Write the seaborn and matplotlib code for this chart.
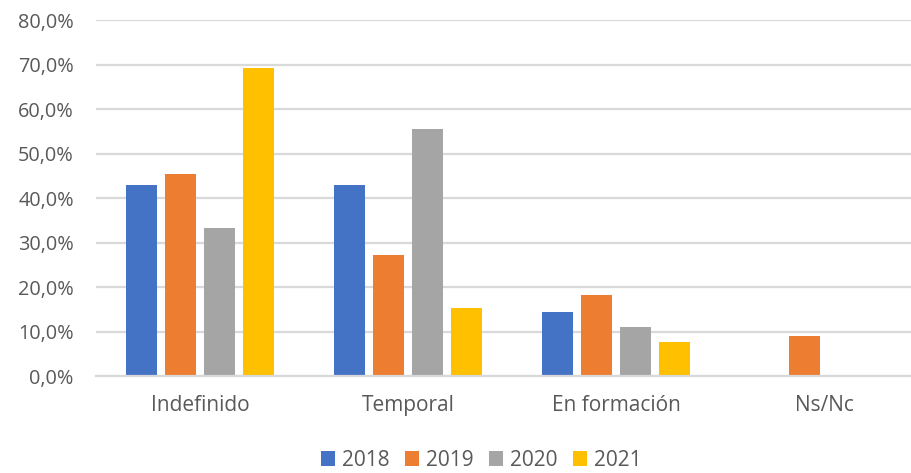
import numpy as np
import pandas as pd
import matplotlib
matplotlib.use("Agg")
import matplotlib.pyplot as plt
from matplotlib.ticker import FuncFormatter
import seaborn as sns

# Chart data (percentages)
categories = ["Indefinido", "Temporal", "En formación", "Ns/Nc"]
years = ["2018", "2019", "2020", "2021"]
v2018 = [42.9, 42.9, 14.3, np.nan]
v2019 = [45.5, 27.3, 18.2, 9.1]
v2020 = [33.3, 55.6, 11.1, np.nan]
v2021 = [69.2, 15.4, 7.7, np.nan]
colors = ["#4472C4", "#ED7D31", "#A5A5A5", "#FFC000"]

df = pd.DataFrame({"categoria": categories, "2018": v2018, "2019": v2019,
                   "2020": v2020, "2021": v2021})
long_df = df.melt(id_vars="categoria", var_name="año", value_name="valor").dropna()

sns.set_theme(style="white")
plt.rcParams['font.family'] = ['Open Sans', 'DejaVu Sans']
text_color = "#595959"
grid_color = "#D9D9D9"

fig = plt.figure(figsize=(9.12, 4.73), dpi=100)
ax = fig.add_axes([96 / 912, 1 - 376 / 473, 1 - 96 / 912, (376 - 20.5) / 473])

sns.barplot(data=long_df, x="categoria", y="valor", hue="año", order=categories,
            hue_order=years, palette=colors, width=0.75, gap=0.22, saturation=1,
            edgecolor="none", ax=ax)

ax.set_ylim(0, 80)
ax.set_xlim(-0.5, 3.423)
ax.set_yticks(np.arange(0, 81, 10))
ax.yaxis.set_major_formatter(FuncFormatter(lambda v, p: f"{v:.1f}%".replace(".", ",")))
ax.grid(axis="y", color=grid_color, linewidth=1.6)
ax.set_axisbelow(True)
for side in ["left", "right", "top"]:
    ax.spines[side].set_visible(False)
ax.spines["bottom"].set_color(grid_color)
ax.spines["bottom"].set_linewidth(1.6)
ax.tick_params(axis="both", length=0, colors=text_color)
ax.tick_params(axis="x", pad=14, labelsize=15)
ax.tick_params(axis="y", pad=16, labelsize=14.3)
ax.set_xlabel("")
ax.set_ylabel("")

handles, labels = ax.get_legend_handles_labels()
ax.legend(handles, labels, loc="center", ncol=4,
          frameon=False, fontsize=15, labelcolor=text_color, handlelength=0.7,
          handleheight=0.7, handletextpad=0.3, columnspacing=0.75,
          bbox_to_anchor=(481 / 912, 1 - 460 / 473), bbox_transform=fig.transFigure)

fig.savefig("out.png", dpi=100)
